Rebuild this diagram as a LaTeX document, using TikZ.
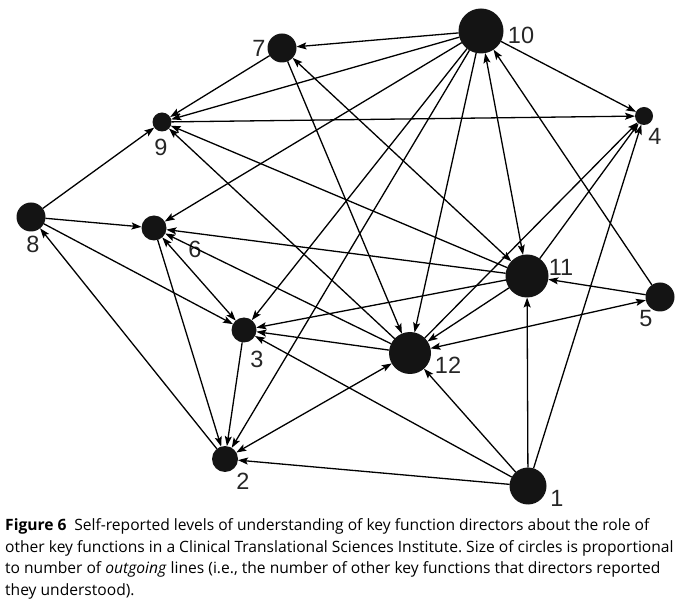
\documentclass[tikz,border=0pt]{standalone}
\usepackage{fontspec}
\setmainfont{Liberation Sans}
\newfontfamily\capfont{Open Sans}
\usetikzlibrary{arrows.meta}
\frenchspacing

\begin{document}
\begin{tikzpicture}[x=1pt, y=-1pt,
		kf/.style={circle, fill=black!92, inner sep=0pt, outer sep=0pt, minimum size=#1},
		num/.style={font=\fontsize{23.5}{23.5}\selectfont, inner sep=0pt, text=black!85},
		arr/.style={line width=1.3pt, -{Stealth[length=10pt, width=7pt, inset=2pt]}},
		darr/.style={line width=1.3pt, {Stealth[length=10pt, width=7pt, inset=2pt]}-{Stealth[length=10pt, width=7pt, inset=2pt]}},
		captext/.style={anchor=base west, inner sep=0pt, font=\capfont\fontsize{15.6}{18}\selectfont}]
		\useasboundingbox (0,0) rectangle (683,601);
		\node[kf=45pt] (n10) at (481,31) {};
		\node[kf=29pt] (n7) at (282,48) {};
		\node[kf=18pt] (n4) at (644,116) {};
		\node[kf=19pt] (n9) at (162,122) {};
		\node[kf=29pt] (n8) at (31,217) {};
		\node[kf=25pt] (n6) at (154,228) {};
		\node[kf=43pt] (n11) at (527,276) {};
		\node[kf=29pt] (n5) at (660,297) {};
		\node[kf=25pt] (n3) at (244,330) {};
		\node[kf=42pt] (n12) at (410,353) {};
		\node[kf=26pt] (n2) at (225,459) {};
		\node[kf=37pt] (n1) at (528,486) {};
		\node[num] (l10) at (521,35) {10};
		\node[num] (l7) at (259,48) {7};
		\node[num] (l4) at (655,136) {4};
		\node[num] (l9) at (161,147) {9};
		\node[num] (l8) at (33,244) {8};
		\node[num] (l6) at (195,249) {6};
		\node[num] (l11) at (561,267) {11};
		\node[num] (l5) at (646,319) {5};
		\node[num] (l3) at (257,359) {3};
		\node[num] (l12) at (448,365) {12};
		\node[num] (l2) at (243,481) {2};
		\node[num] (l1) at (557,498) {1};
		\draw[arr] (n10) edge (n7) edge (n9) edge (n6) edge (n3) edge (n2) edge (n12) edge (n4);
		\draw[arr] (n11) edge (n9) edge (n6) edge (n3) edge (n12) edge (n4);
		\draw[arr] (n12) edge (n3) edge (n6) edge (n9) edge (n4);
		\draw[arr] (n1) edge (n2) edge (n3) edge (n12) edge (n11) edge (n4);
		\draw[arr] (n7) edge (n9) edge (n12);
		\draw[arr] (n5) edge (n10) edge (n11);
		\draw[arr] (n8) edge (n9) edge (n6) edge (n3);
		\draw[arr] (n6) edge (n2);
		\draw[arr] (n3) edge (n2);
		\draw[arr] (n2) edge (n8);
		\draw[arr] (n9) edge (n4);
		\draw[darr] (n10) -- (n11);
		\draw[darr] (n7) -- (n11);
		\draw[darr] (n2) -- (n12);
		\draw[darr] (n12) -- (n5);
		\draw[darr] (n6) -- (n3);
		\node[captext] (c1) at (5,530) {{\bfseries Figure 6}\hspace{0.5em}Self-reported levels of understanding of key function directors about the role of};
		\node[captext] (c2) at (5,552) {other key functions in a Clinical Translational Sciences Institute. Size of circles is proportional};
		\node[captext] (c3) at (5,573) {to number of \emph{outgoing} lines (i.e., the number of other key functions that directors reported};
		\node[captext] (c4) at (5,595) {they understood).};
\end{tikzpicture}
\end{document}
